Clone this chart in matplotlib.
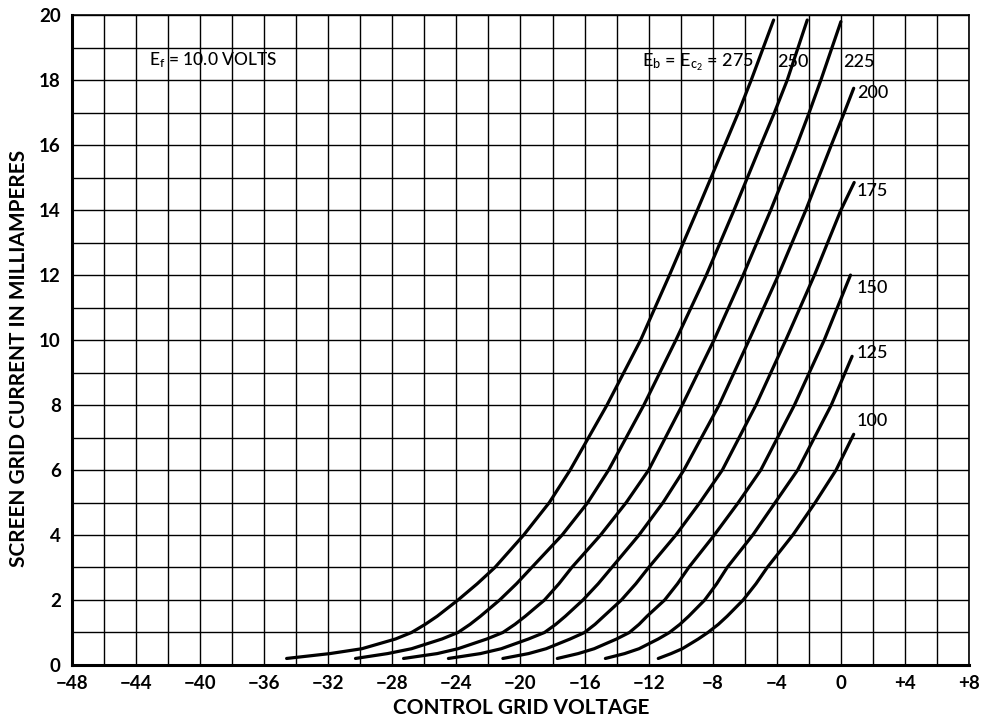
import matplotlib
matplotlib.use('Agg')
import matplotlib.pyplot as plt

plt.rcParams['font.family'] = ['Lato', 'DejaVu Sans']
plt.rcParams['mathtext.default'] = 'regular'

# screen grid current (mA) / control grid voltage (V), one pair per curve
i_275 = [0.2, 0.35, 0.5, 0.8, 1, 1.25, 1.5, 2, 2.5, 3, 4, 5, 6, 8, 10, 12, 14, 16, 17, 18, 19.85]
v_275 = [-34.6, -31.9, -29.9, -27.8, -26.8, -25.95, -25.2, -23.9, -22.7, -21.6, -19.8, -18.2, -16.9, -14.6, -12.5, -10.7, -8.96, -7.25, -6.4, -5.6, -4.2]

i_250 = [0.2, 0.35, 0.5, 0.8, 1, 1.25, 1.5, 2, 2.5, 3, 4, 5, 6, 8, 10, 12, 14, 16, 17, 18, 19.85]
v_250 = [-30.3, -28.3, -26.8, -24.9, -23.9, -23.15, -22.5, -21.3, -20.25, -19.3, -17.4, -15.8, -14.5, -12.3, -10.3, -8.4, -6.67, -5.0, -4.15, -3.35, -2.1]

i_225 = [0.2, 0.35, 0.5, 0.8, 1, 1.25, 1.5, 2, 2.5, 3, 4, 5, 6, 8, 10, 12, 14, 16, 17, 18, 19.8]
v_225 = [-27.3, -25.2, -23.9, -22.1, -21.1, -20.35, -19.7, -18.5, -17.6, -16.8, -15.0, -13.4, -12.0, -9.9, -7.92, -6.1, -4.38, -2.75, -1.98, -1.25, 0.0]

i_200 = [0.2, 0.35, 0.5, 0.8, 1, 1.25, 1.5, 2, 2.5, 3, 4, 5, 6, 8, 10, 12, 14, 16, 17, 17.75]
v_200 = [-24.5, -22.5, -21.2, -19.5, -18.5, -17.8, -17.2, -16.1, -15.15, -14.3, -12.6, -11.1, -9.8, -7.6, -5.73, -3.9, -2.19, -0.6, 0.21, 0.8]

i_175 = [0.2, 0.35, 0.5, 0.8, 1, 1.25, 1.5, 2, 2.5, 3, 4, 5, 6, 8, 10, 12, 14, 14.85]
v_175 = [-21.1, -19.5, -18.4, -16.9, -16.0, -15.35, -14.8, -13.7, -12.8, -12.0, -10.3, -8.8, -7.4, -5.3, -3.44, -1.65, 0.0, 0.83]

i_150 = [0.2, 0.35, 0.5, 0.8, 1, 1.25, 1.5, 2, 2.5, 3, 4, 5, 6, 8, 10, 12]
v_150 = [-17.7, -16.4, -15.4, -14.0, -13.2, -12.6, -12.1, -11.0, -10.2, -9.5, -7.9, -6.4, -5.0, -2.9, -1.04, 0.6]

i_125 = [0.2, 0.35, 0.5, 0.8, 1, 1.25, 1.5, 2, 2.5, 3, 4, 5, 6, 8, 9.5]
v_125 = [-14.7, -13.5, -12.6, -11.4, -10.7, -10.05, -9.5, -8.5, -7.75, -7.1, -5.5, -4.1, -2.7, -0.6, 0.7]

i_100 = [0.2, 0.35, 0.5, 0.8, 1, 1.25, 1.5, 2, 2.5, 3, 4, 5, 6, 7.1]
v_100 = [-11.4, -10.6, -9.9, -8.9, -8.3, -7.65, -7.1, -6.1, -5.3, -4.6, -3.0, -1.6, -0.3, 0.8]

curves = [(v_275, i_275), (v_250, i_250), (v_225, i_225), (v_200, i_200),
          (v_175, i_175), (v_150, i_150), (v_125, i_125), (v_100, i_100)]

x_ticks = list(range(-48, 9, 4))
x_labels = ['\u221248', '\u221244', '\u221240', '\u221236', '\u221232', '\u221228', '\u221224',
            '\u221220', '\u221216', '\u221212', '\u22128', '\u22124', '0', '+4', '+8']
y_ticks = list(range(0, 21, 2))

fig = plt.figure(figsize=(9.83, 7.22), dpi=100)
ax = fig.add_axes([0.0732, 0.079, 0.9126, 0.900])

for v, i in curves:
    ax.plot(v, i, color='black', lw=2.3, solid_capstyle='round',
            solid_joinstyle='round', zorder=3)

ax.set_xlim(-48, 8)
ax.set_ylim(0, 20)
ax.set_xticks(x_ticks)
ax.set_xticklabels(x_labels)
ax.set_xticks(range(-48, 9, 2), minor=True)
ax.set_yticks(y_ticks)
ax.set_yticks(range(0, 21, 1), minor=True)
ax.grid(which='both', color='black', lw=1.0)
ax.tick_params(which='both', length=0, labelsize=13.5)
ax.tick_params(axis='x', pad=7)
ax.tick_params(axis='y', pad=8)
for lab in ax.get_xticklabels() + ax.get_yticklabels():
    lab.set_fontweight('bold')
for s in ['left', 'bottom']:
    ax.spines[s].set_linewidth(2.2)
for s in ['right', 'top']:
    ax.spines[s].set_linewidth(1.2)

fig.text(0.53, 0.02, 'CONTROL GRID VOLTAGE', ha='center', va='center',
         fontsize=15, fontweight='bold')
fig.text(0.019, 0.504, 'SCREEN GRID CURRENT IN MILLIAMPERES', rotation=90,
         ha='center', va='center', fontsize=15, fontweight='bold')

# annotations
ax.text(-43.2, 18.6, 'E$_f$ = 10.0 VOLTS', fontsize=12.5, fontweight='medium',
        va='center', ha='left')
ax.text(-12.4, 18.55, 'E$_b$ = E$_{c_2}$ = 275', fontsize=13, fontweight='medium',
        va='center', ha='left')
for x, y, s in [(-4.0, 18.55, '250'), (0.15, 18.55, '225'), (1.0, 17.6, '200'),
                (1.0, 14.6, '175'), (1.0, 11.6, '150'), (1.0, 9.6, '125'),
                (1.0, 7.5, '100')]:
    ax.text(x, y, s, fontsize=13, fontweight='medium', va='center', ha='left')

fig.savefig('out.png', dpi=100)
